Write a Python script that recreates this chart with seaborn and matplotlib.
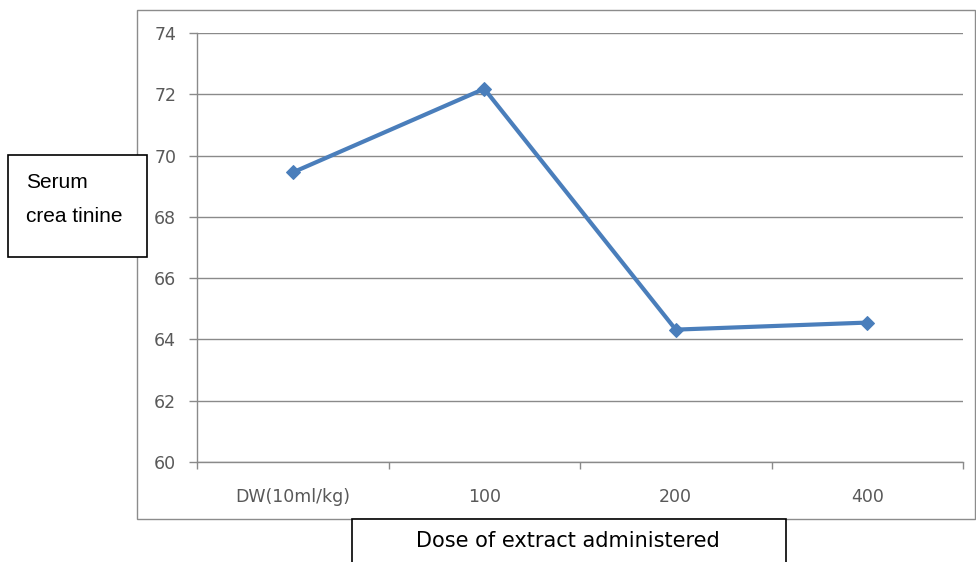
import matplotlib
matplotlib.use("Agg")
import matplotlib.pyplot as plt
from matplotlib.patches import Rectangle
from matplotlib.ticker import FixedLocator
import seaborn as sns
import pandas as pd

doses = ["DW(10ml/kg)", "100", "200", "400"]
creatinine = [69.45, 72.18, 64.32, 64.55]
y_ticks = [60, 62, 64, 66, 68, 70, 72, 74]

sns.set_theme(style="white")
plt.rcParams["font.family"] = ["DejaVu Sans"]

W, H = 976, 562
fig = plt.figure(figsize=(W / 100, H / 100), dpi=100)
fig.patch.set_facecolor("white")

def fx(px):
    return px / W

def fy(py):
    return 1 - py / H

# outer chart frame
fig.add_artist(Rectangle((fx(137), fy(519)), fx(838), 509 / H, transform=fig.transFigure,
                         fill=False, edgecolor="#8c8c8c", linewidth=1.0))

ax = fig.add_axes([fx(197), fy(462), fx(963 - 197), (462 - 33) / H])
df = pd.DataFrame({"dose": doses, "value": creatinine})
sns.lineplot(data=df, x="dose", y="value", ax=ax, color="#4a7ebb", linewidth=3,
             marker="D", markersize=7, markeredgecolor="#4a7ebb", sort=False)

ax.set_xlim(-0.5, len(doses) - 0.5)
ax.set_ylim(60, 74)
ax.set_yticks(y_ticks)
ax.set_yticklabels([str(v) for v in y_ticks])
ax.set_xticks(range(len(doses)))
ax.set_xticklabels(doses)
ax.xaxis.set_minor_locator(FixedLocator([i + 0.5 for i in range(-1, len(doses))]))
ax.yaxis.grid(True, color="#8a8a8a", linewidth=1.0)
ax.set_axisbelow(True)
ax.set_xlabel("")
ax.set_ylabel("")

for side in ("top", "right"):
    ax.spines[side].set_visible(False)
for side in ("left", "bottom"):
    ax.spines[side].set_color("#8a8a8a")
    ax.spines[side].set_linewidth(1.0)

ax.tick_params(axis="y", which="major", direction="out", length=6, width=1, color="#8a8a8a",
               labelsize=12.5, labelcolor="#595959", pad=9, left=True)
ax.tick_params(axis="x", which="major", length=0, labelsize=12.5, labelcolor="#595959", pad=19)
ax.tick_params(axis="x", which="minor", direction="out", length=5, width=1, color="#8a8a8a",
               bottom=True)

# y-axis label box
fig.add_artist(Rectangle((fx(8), fy(257)), fx(147 - 8), (257 - 155) / H, transform=fig.transFigure,
                         fill=True, facecolor="white", edgecolor="black", linewidth=1.2))
fig.text(fx(26), fy(188), "Serum", fontsize=15, family="Liberation Sans", color="black",
         va="baseline", ha="left")
fig.text(fx(26), fy(222), "crea tinine", fontsize=15, family="Liberation Sans", color="black",
         va="baseline", ha="left")

# x-axis label box
fig.add_artist(Rectangle((fx(352), fy(575)), fx(786 - 352), (575 - 519) / H, transform=fig.transFigure,
                         fill=True, facecolor="white", edgecolor="black", linewidth=1.2))
fig.text(fx(568), fy(541), "Dose of extract administered", fontsize=15, family="DejaVu Sans",
         color="black", va="center", ha="center")

fig.savefig("out.png", dpi=100, facecolor="white")
